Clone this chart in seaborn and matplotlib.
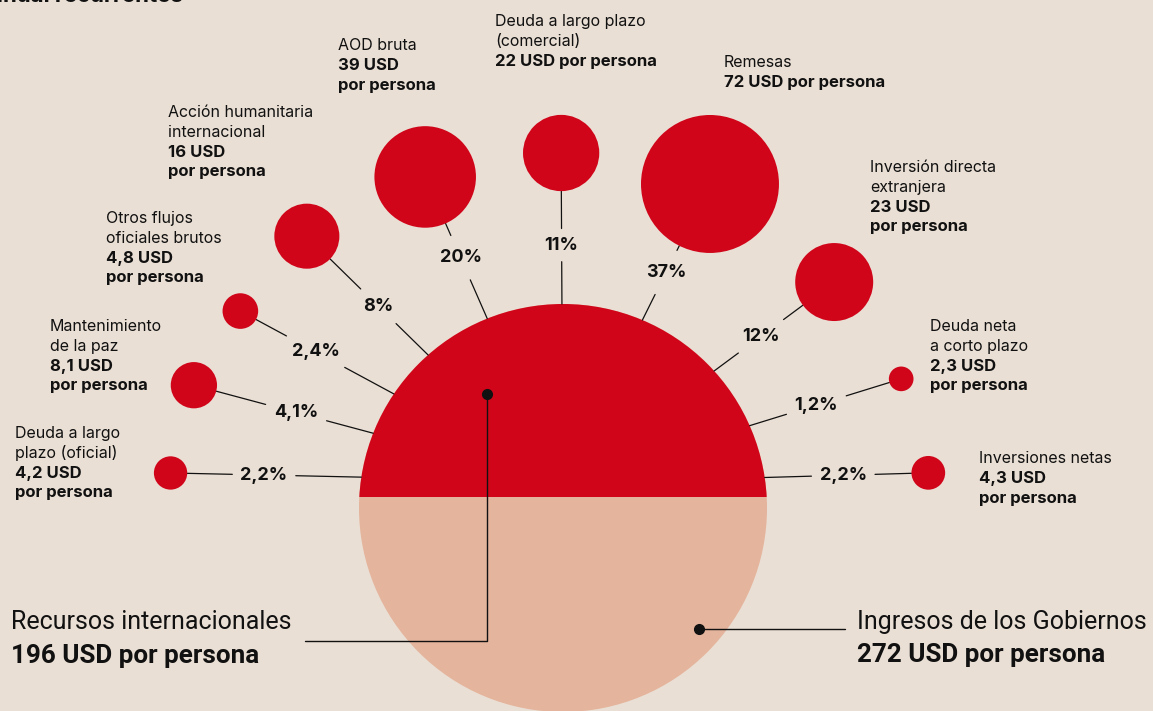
import numpy as np
import pandas as pd
import seaborn as sns
import matplotlib.pyplot as plt
from matplotlib.patches import Circle, Rectangle

# Datos: flujos por persona (USD)
nombres = [
    ["Deuda a largo", "plazo (oficial)"],
    ["Mantenimiento", "de la paz"],
    ["Otros flujos", "oficiales brutos"],
    ["Acción humanitaria", "internacional"],
    ["AOD bruta"],
    ["Deuda a largo plazo", "(comercial)"],
    ["Remesas"],
    ["Inversión directa", "extranjera"],
    ["Deuda neta", "a corto plazo"],
    ["Inversiones netas"],
]
usd = [4.2, 8.1, 4.8, 16, 39, 22, 72, 23, 2.3, 4.3]
usd_texto = [
    ["4,2 USD", "por persona"],
    ["8,1 USD", "por persona"],
    ["4,8 USD", "por persona"],
    ["16 USD", "por persona"],
    ["39 USD", "por persona"],
    ["22 USD por persona"],
    ["72 USD por persona"],
    ["23 USD", "por persona"],
    ["2,3 USD", "por persona"],
    ["4,3 USD", "por persona"],
]
porcentajes = ["2,2%", "4,1%", "2,4%", "8%", "20%", "11%", "37%", "12%", "1,2%", "2,2%"]

recursos_usd = 196
ingresos_usd = 272

# Disposicion (pixeles de la figura)
angulo_circulo = [174.9, 161.6, 148.6, 133.3, 112.6, 90.3, 65.6, 39.8, 20.9, 5.5]
dist_circulo = [394, 389, 378, 373.5, 358.6, 355, 355.8, 353, 362, 367]
angulo_ancla = [171.3, 158.5, 146.0, 131.4, 111.8, 90.3, 67.1, 42.2, 23.8, 8.6]
t_etiqueta = [0.51, 0.43, 0.51, 0.41, 0.43, 0.39, 0.35, 0.39, 0.44, 0.48]
texto_x = [15, 50, 106, 168, 338, 495, 724, 870, 930, 979]
texto_y = [438, 331, 223, 117, 50, 26, 67, 172, 331, 463]

ROJO = "#D0051A"
SALMON = "#E4B49C"
FONDO = "#EADFD4"
NEGRO = "#111111"

sns.set_theme(style="white")
plt.rcParams["font.family"] = ["Inter", "DejaVu Sans"]
GRANDE = ["Roboto", "DejaVu Sans"]

W, H, DPI = 1153, 711, 100
fig = plt.figure(figsize=(W / DPI, H / DPI), dpi=DPI, facecolor=FONDO)
ax = fig.add_axes([0, 0, 1, 1])
ax.set_facecolor(FONDO)

# circulo grande
cx, cy, R = 563, 508, 204
corte_y = 497
ax.add_patch(Circle((cx, cy), R, color=SALMON, lw=0, zorder=0))
rojo = Circle((cx, cy), R, color=ROJO, lw=0, zorder=0.5)
ax.add_patch(rojo)
rojo.set_clip_path(Rectangle((0, 0), W, corte_y, transform=ax.transData))

# circulos pequenos (area proporcional a USD)
escala_radio = 8.13  # px por sqrt(USD)
ang = np.radians(angulo_circulo)
df = pd.DataFrame({
    "x": cx + np.array(dist_circulo) * np.cos(ang),
    "y": cy - np.array(dist_circulo) * np.sin(ang),
    "usd": usd,
})
radio_pt = escala_radio * np.sqrt(max(usd)) * 72 / DPI
sns.scatterplot(data=df, x="x", y="y", size="usd", sizes=(0, (2 * radio_pt) ** 2),
                size_norm=(0, max(usd)), color=ROJO, linewidth=0, legend=False,
                ax=ax, zorder=3)

ax.set_xlim(0, W)
ax.set_ylim(H, 0)
ax.axis("off")

fig.canvas.draw()
rend = fig.canvas.get_renderer()

for i in range(len(usd)):
    a = np.radians(angulo_ancla[i])
    ax0, ay0 = cx + R * np.cos(a), cy - R * np.sin(a)
    px, py = df.x[i], df.y[i]
    dx, dy = px - ax0, py - ay0
    L = np.hypot(dx, dy)
    ux, uy = dx / L, dy / L
    r = escala_radio * np.sqrt(usd[i])
    lx, ly = ax0 + t_etiqueta[i] * dx, ay0 + t_etiqueta[i] * dy
    t = ax.text(lx, ly, porcentajes[i], ha="center", va="center", fontsize=13,
                fontweight="bold", color=NEGRO, zorder=4)
    bb = t.get_window_extent(renderer=rend)
    hueco = abs(ux) * bb.width / 2 + abs(uy) * bb.height / 2 + 8
    d_lab = t_etiqueta[i] * L
    ax.plot([ax0, ax0 + ux * (d_lab - hueco)], [ay0, ay0 + uy * (d_lab - hueco)],
            color=NEGRO, lw=0.9, zorder=2)
    ax.plot([ax0 + ux * (d_lab + hueco), ax0 + ux * (L - r)],
            [ay0 + uy * (d_lab + hueco), ay0 + uy * (L - r)],
            color=NEGRO, lw=0.9, zorder=2)

    # bloque de texto
    paso = 19.8
    fila = 0
    for linea in nombres[i]:
        ax.text(texto_x[i], texto_y[i] + fila * paso, linea, fontsize=11.5,
                va="baseline", ha="left", color=NEGRO)
        fila += 1
    for linea in usd_texto[i]:
        ax.text(texto_x[i], texto_y[i] + fila * paso, linea, fontsize=12,
                fontweight="bold", va="baseline", ha="left", color=NEGRO)
        fila += 1

# conectores de los totales
ax.plot([487, 487, 305], [394, 641, 641], color=NEGRO, lw=1, zorder=5)
ax.plot([487], [394], "o", color=NEGRO, ms=7, zorder=6)
ax.plot([699, 845], [629, 629], color=NEGRO, lw=1, zorder=5)
ax.plot([699], [629], "o", color=NEGRO, ms=7, zorder=6)

ax.text(11, 629, "Recursos internacionales", fontsize=18, va="baseline",
        color=NEGRO, family=GRANDE)
ax.text(11, 663, f"{recursos_usd} USD por persona", fontsize=18.7, fontweight="bold",
        va="baseline", color=NEGRO, family=GRANDE)
ax.text(857, 629, "Ingresos de los Gobiernos", fontsize=18, va="baseline",
        color=NEGRO, family=GRANDE)
ax.text(857, 662, f"{ingresos_usd} USD por persona", fontsize=18.7, fontweight="bold",
        va="baseline", color=NEGRO, family=GRANDE)

# titulo cortado en el borde superior
ax.text(183, 2, "anual recurrentes", ha="right", va="baseline", fontsize=16,
        fontweight="bold", color=NEGRO)

fig.savefig("out.png", dpi=DPI, facecolor=FONDO)
